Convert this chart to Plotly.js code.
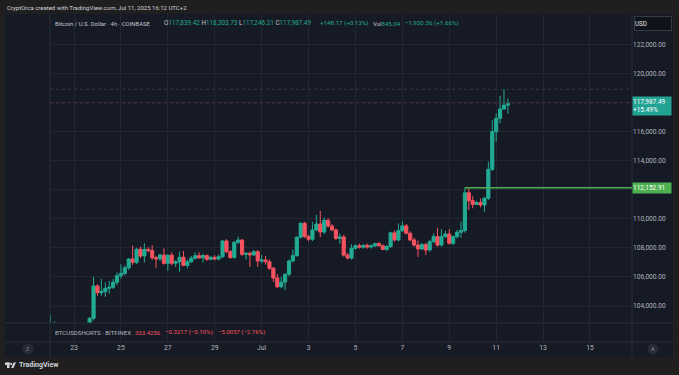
<!DOCTYPE html>
<html><head><meta charset="utf-8">
<script src="https://cdn.plot.ly/plotly-3.0.1.min.js"></script>
<style>html,body{margin:0;padding:0;background:#1f1f1f;}#chart{width:679px;height:375px;}</style>
</head><body><div id="chart"></div>
<script>
// ---- DATA (4h candles, BTC/USD Coinbase) ----
const times = [
"2025-06-22 00:00","2025-06-22 04:00","2025-06-22 08:00","2025-06-22 12:00","2025-06-22 16:00","2025-06-22 20:00",
"2025-06-23 00:00","2025-06-23 04:00","2025-06-23 08:00","2025-06-23 12:00","2025-06-23 16:00","2025-06-23 20:00",
"2025-06-24 00:00","2025-06-24 04:00","2025-06-24 08:00","2025-06-24 12:00","2025-06-24 16:00","2025-06-24 20:00",
"2025-06-25 00:00","2025-06-25 04:00","2025-06-25 08:00","2025-06-25 12:00","2025-06-25 16:00","2025-06-25 20:00",
"2025-06-26 00:00","2025-06-26 04:00","2025-06-26 08:00","2025-06-26 12:00","2025-06-26 16:00","2025-06-26 20:00",
"2025-06-27 00:00","2025-06-27 04:00","2025-06-27 08:00","2025-06-27 12:00","2025-06-27 16:00","2025-06-27 20:00",
"2025-06-28 00:00","2025-06-28 04:00","2025-06-28 08:00","2025-06-28 12:00","2025-06-28 16:00","2025-06-28 20:00",
"2025-06-29 00:00","2025-06-29 04:00","2025-06-29 08:00","2025-06-29 12:00","2025-06-29 16:00","2025-06-29 20:00",
"2025-06-30 00:00","2025-06-30 04:00","2025-06-30 08:00","2025-06-30 12:00","2025-06-30 16:00","2025-06-30 20:00",
"2025-07-01 00:00","2025-07-01 04:00","2025-07-01 08:00","2025-07-01 12:00","2025-07-01 16:00","2025-07-01 20:00",
"2025-07-02 00:00","2025-07-02 04:00","2025-07-02 08:00","2025-07-02 12:00","2025-07-02 16:00","2025-07-02 20:00",
"2025-07-03 00:00","2025-07-03 04:00","2025-07-03 08:00","2025-07-03 12:00","2025-07-03 16:00","2025-07-03 20:00",
"2025-07-04 00:00","2025-07-04 04:00","2025-07-04 08:00","2025-07-04 12:00","2025-07-04 16:00","2025-07-04 20:00",
"2025-07-05 00:00","2025-07-05 04:00","2025-07-05 08:00","2025-07-05 12:00","2025-07-05 16:00","2025-07-05 20:00",
"2025-07-06 00:00","2025-07-06 04:00","2025-07-06 08:00","2025-07-06 12:00","2025-07-06 16:00","2025-07-06 20:00",
"2025-07-07 00:00","2025-07-07 04:00","2025-07-07 08:00","2025-07-07 12:00","2025-07-07 16:00","2025-07-07 20:00",
"2025-07-08 00:00","2025-07-08 04:00","2025-07-08 08:00","2025-07-08 12:00","2025-07-08 16:00","2025-07-08 20:00",
"2025-07-09 00:00","2025-07-09 04:00","2025-07-09 08:00","2025-07-09 12:00","2025-07-09 16:00","2025-07-09 20:00",
"2025-07-10 00:00","2025-07-10 04:00","2025-07-10 08:00","2025-07-10 12:00","2025-07-10 16:00","2025-07-10 20:00",
"2025-07-11 00:00","2025-07-11 04:00","2025-07-11 08:00","2025-07-11 12:00"
];
const open = [
101600,102000,102400,101100,99900,99000, 100300,100900,101200,100900,102200,103150,
105380,104920,104990,105220,105290,105630, 106090,106250,106640,107240,107010,107910,
107450,107900,107820,107330,107250,107520, 106940,107500,106950,107050,107360,106800,
107050,107290,107470,107320,107470,107220, 107350,107240,107400,108480,107740,107350,
108390,108550,107560,107630,107520,107740, 107100,107170,107050,106600,105930,105330,
105650,106190,107100,107470,108740,109700, 108780,108600,109240,109650,109100,109900,
109510,109240,108660,108760,107510,107300, 107970,108150,108050,108180,108060,108150,
108300,108150,107900,108100,109040,108550, 109190,109520,109010,108550,108200,107930,
108230,107860,108430,108780,108200,108780, 108960,108320,108780,109080,109200,111800,
111250,111000,111120,110960,111420,113420, 116010,116930,117570,117839.42
];
const high = [
103380,102950,102600,101500,100300,100500, 101300,101600,101900,102300,103250,106020,
105500,105860,105630,105730,105860,106320, 106870,106780,107300,108160,108020,108100,
108320,108050,108200,107450,107600,107980, 107560,107700,107150,107740,107790,107200,
107450,107700,107700,107600,107550,107450, 107500,107550,108550,108600,107850,108450,
108780,108600,107700,107750,107850,107850, 107520,107450,107200,106700,106200,106020,
106250,107200,107860,108800,109760,109800, 108900,109800,110270,110550,110100,110050,
109650,109350,109000,108900,107650,108250, 108250,108300,108250,108300,108250,108350,
108400,108250,108200,109120,109200,109700, 109850,109650,109150,108700,108500,108350,
108350,108550,109000,109400,109300,109200, 109300,108850,109250,109810,112153,112110,
111580,111250,111400,111500,113940,116810, 117270,118470,118930,118303.73
];
const low = [
101300,101800,100900,99500,98200,98800, 99700,100300,100600,99600,102000,103000,
104710,104710,104640,104850,105170,105440, 105880,106130,106480,106830,106890,107300,
107000,107700,107170,106600,107100,106850, 106430,106800,106700,106360,106750,106600,
106950,107200,107250,107000,107100,107150, 107150,107150,107300,107650,107250,107250,
108270,107450,107200,106700,107450,106700, 106950,106850,106500,105650,105220,105220,
105100,106050,107000,107400,108650,108700, 108450,108480,109150,108750,108950,109400,
109150,108550,108300,107400,107220,107200, 107900,107950,107950,107950,107950,108050,
108100,107850,107800,108000,108450,108450, 109100,108950,108450,108100,107380,107850,
107510,107750,108350,108100,108100,108700, 108250,108200,108650,108700,109050,110610,
110730,110950,110800,110500,111300,113300, 115320,116590,117500,117246.21
];
const close = [
102000,102400,101100,99900,99000,100300, 100900,101200,100900,102200,103150,105380,
104920,104990,105220,105290,105630,106090, 106250,106640,107240,107010,107910,107450,
107900,107820,107330,107250,107520,106940, 107500,106950,107050,107360,106800,107050,
107290,107470,107320,107470,107220,107350, 107240,107400,108480,107740,107350,108390,
108550,107560,107630,107520,107740,107100, 107170,107050,106600,105930,105330,105650,
106190,107100,107470,108740,109700,108780, 108600,109240,109650,109100,109900,109510,
109240,108660,108760,107510,107300,107970, 108150,108050,108180,108060,108150,108300,
108150,107900,108100,109040,108550,109190, 109520,109010,108550,108200,107930,108230,
107860,108430,108780,108200,108780,108960, 108320,108780,109080,109200,111800,111250,
111000,111120,110960,111420,113420,116010, 116930,117570,117839.42,117987.49
];
const priceTicks = [104000,106000,108000,110000,112000,114000,116000,118000,120000,122000];
// labels at 112,000 and 118,000 are hidden behind the price labels
const priceTickText = ["104,000.00","106,000.00","108,000.00","110,000.00","","114,000.00","116,000.00","","120,000.00","122,000.00"];
const dateTicks = ["2025-06-23","2025-06-25","2025-06-27","2025-06-29","2025-07-01","2025-07-03",
                   "2025-07-05","2025-07-07","2025-07-09","2025-07-11","2025-07-13","2025-07-15"];
const dateTickText = ["23","25","27","29","Jul","3","5","7","9","11","13","15"];
const levelLine = 112152.91;           // horizontal level drawn by author
const levelStartIndex = 106;           // candle where the level starts
const lastChangePct = "+15.49%";

// ---- LAYOUT GEOMETRY ----
const W=679,H=375,L=50,R=47,T=14,B=33;
const PW=W-L-R, PH=H-T-B;
const fx = px => (px-L)/PW;
const fy = py => (H-B-py)/PH;
const FONT = "Roboto, 'Liberation Sans', Arial, sans-serif";
const UP='#22ab94', DN='#f7525f', GRID='#222632', BORDER='#2a2e39', TXT='#b2b5be';

const n = close.length;
const lastClose = close[n-1];
const maxHigh = Math.max(...high);
const fmt = v => v.toLocaleString('en-US',{minimumFractionDigits:2,maximumFractionDigits:2});

const traces = [
  {type:'candlestick', x:times, open:open, high:high, low:low, close:close,
   xaxis:'x', yaxis:'y', whiskerwidth:0, line:{width:1},
   increasing:{line:{color:UP,width:1}, fillcolor:UP},
   decreasing:{line:{color:DN,width:1}, fillcolor:DN},
   hoverinfo:'skip', showlegend:false},
  {type:'scatter', x:[], y:[], xaxis:'x', yaxis:'y2', showlegend:false, hoverinfo:'skip'}
];

const shapes = [
  {type:'rect',xref:'paper',yref:'paper',x0:fx(5),x1:fx(673),y0:fy(357),y1:fy(14),fillcolor:'#161a25',line:{width:0},layer:'below'},
  {type:'line',xref:'paper',yref:'paper',x0:fx(632),x1:fx(632),y0:fy(357),y1:fy(14),line:{color:BORDER,width:1}},
  {type:'line',xref:'paper',yref:'paper',x0:fx(50),x1:fx(50),y0:fy(357),y1:fy(14),line:{color:BORDER,width:1}},
  {type:'line',xref:'paper',yref:'paper',x0:fx(5),x1:fx(673),y0:fy(323),y1:fy(323),line:{color:BORDER,width:1}},
  {type:'line',xref:'paper',yref:'paper',x0:fx(5),x1:fx(673),y0:fy(342),y1:fy(342),line:{color:BORDER,width:1}},
  {type:'line',xref:'paper',yref:'y',x0:0,x1:1,y0:maxHigh,y1:maxHigh,line:{color:'#363a46',width:1,dash:'dot'}},
  {type:'line',xref:'paper',yref:'y',x0:0,x1:1,y0:lastClose,y1:lastClose,line:{color:'#4f2c3a',width:1,dash:'dot'}},
  {type:'line',xref:'x',yref:'y',x0:times[levelStartIndex],x1:'2025-07-16 19:00',y0:levelLine,y1:levelLine,line:{color:'#4caf50',width:1.5}},
  {type:'circle',xref:'paper',yref:'paper',x0:fx(22.5),x1:fx(33.5),y0:fy(354.5),y1:fy(343.5),fillcolor:'#262a35',line:{width:0}},
  {type:'circle',xref:'paper',yref:'paper',x0:fx(647.5),x1:fx(658.5),y0:fy(354.5),y1:fy(343.5),fillcolor:'#262a35',line:{width:0}},
  {type:'rect',xref:'paper',yref:'paper',x0:fx(5),x1:fx(9.5),y0:fy(365),y1:fy(362.5),fillcolor:'#d1d4dc',line:{width:0}},
  {type:'rect',xref:'paper',yref:'paper',x0:fx(7),x1:fx(9.5),y0:fy(368),y1:fy(362.5),fillcolor:'#d1d4dc',line:{width:0}},
  {type:'circle',xref:'paper',yref:'paper',x0:fx(10),x1:fx(12.2),y0:fy(365),y1:fy(362.8),fillcolor:'#d1d4dc',line:{width:0}},
  {type:'path',xref:'paper',yref:'paper',path:`M ${fx(11.2)},${fy(368)} L ${fx(13.6)},${fy(362.5)} L ${fx(16)},${fy(362.5)} L ${fx(13.4)},${fy(368)} Z`,fillcolor:'#d1d4dc',line:{width:0}}
];

const A = (px,py,text,size,color) => ({xref:'paper',yref:'paper',x:fx(px),y:fy(py),text:text,showarrow:false,
  xanchor:'left',yanchor:'middle',font:{family:FONT,size:size,color:color||'#d1d4dc'}});
const sp = (c,t) => `<span style="color:${c}">${t}</span>`;
const LG = '#c3c6ce';

const annotations = [
  A(5,7,'CryptOrca created with TradingView.com, Jul 11, 2025 16:12 UTC+2',6.0,'#d1d4dc'),
  A(53,23,'Bitcoin / U.S. Dollar · 4h · COINBASE',5.95,LG),
  A(162,23,'O'+sp(UP,fmt(open[n-1]))+'&nbsp;H'+sp(UP,fmt(high[n-1]))+'&nbsp;L'+sp(UP,fmt(low[n-1]))+'&nbsp;C'+sp(UP,fmt(lastClose)),6.35,LG),
  A(318,23,sp(UP,'+148.17 (+0.13%)'),6.2,UP),
  A(370.5,23,'Vol'+sp(UP,'845.04'),6.0,LG),
  A(402.5,23,sp(UP,'−1,930.36 (+1.66%)'),6.25,UP),
  A(53,332,'BTCUSDSHORTS · BITFINEX',6.1,'#b2b5be'),
  A(133,332,sp(DN,'333.4256'),6.0,DN),
  A(163,332,sp(DN,'−0.3217 (−0.10%)'),6.1,DN),
  A(216,332,sp(DN,'−5.0057 (−2.76%)'),6.0,DN),
  {xref:'paper',yref:'paper',x:fx(634),y:fy(16),xanchor:'left',yanchor:'top',text:'USD',showarrow:false,
   width:36,height:13,align:'left',bgcolor:'#101319',bordercolor:'#363a45',borderwidth:1,borderpad:0,
   font:{family:FONT,size:6.3,color:'#e0e3eb'}},
  {xref:'paper',yref:'y',x:1,y:lastClose,xanchor:'left',yanchor:'top',yshift:6.5,showarrow:false,
   text:fmt(lastClose)+'<br>'+lastChangePct,width:38,height:18,align:'left',bgcolor:'#22a394',borderpad:0,
   font:{family:FONT,size:6.5,color:'#ffffff'}},
  {xref:'paper',yref:'y',x:1,y:levelLine,xanchor:'left',yanchor:'middle',showarrow:false,
   text:fmt(levelLine),width:38,height:10,align:'left',bgcolor:'#4caf50',borderpad:0,
   font:{family:FONT,size:6.5,color:'#ffffff'}},
  Object.assign(A(28,349,'Z',5.5,'#787b86'),{xanchor:'center'}),
  Object.assign(A(653,349,'A',5.5,'#9598a1'),{xanchor:'center'}),
  A(17,365.3,'<b>TradingView</b>',7.0,'#d1d4dc')
];

const layout = {
  width:W, height:H, margin:{l:L,r:R,t:T,b:B,pad:0},
  paper_bgcolor:'#1f1f1f', plot_bgcolor:'rgba(0,0,0,0)',
  showlegend:false, dragmode:false, boxgap:0.15, boxgroupgap:0.05,
  font:{family:FONT,size:6.6,color:TXT},
  xaxis:{type:'date', anchor:'y2', range:['2025-06-21 23:26','2025-07-16 19:00'],
    rangeslider:{visible:false}, showgrid:true, gridcolor:GRID, gridwidth:1, zeroline:false, showline:false,
    ticks:'', tickmode:'array', tickvals:dateTicks, ticktext:dateTickText,
    tickfont:{family:FONT,size:6.8,color:TXT}},
  yaxis:{domain:[fy(323),1], side:'right', range:[102831,124115], showgrid:true, gridcolor:GRID, gridwidth:1,
    zeroline:false, showline:false, ticks:'', tickmode:'array', tickvals:priceTicks, ticktext:priceTickText,
    tickfont:{family:FONT,size:6.6,color:TXT}},
  yaxis2:{domain:[0,fy(323)], range:[0,1], showgrid:false, zeroline:false, showticklabels:false, showline:false, ticks:''},
  shapes:shapes, annotations:annotations
};

Plotly.newPlot('chart', traces, layout, {displayModeBar:false, staticPlot:true});
</script>
</body></html>
